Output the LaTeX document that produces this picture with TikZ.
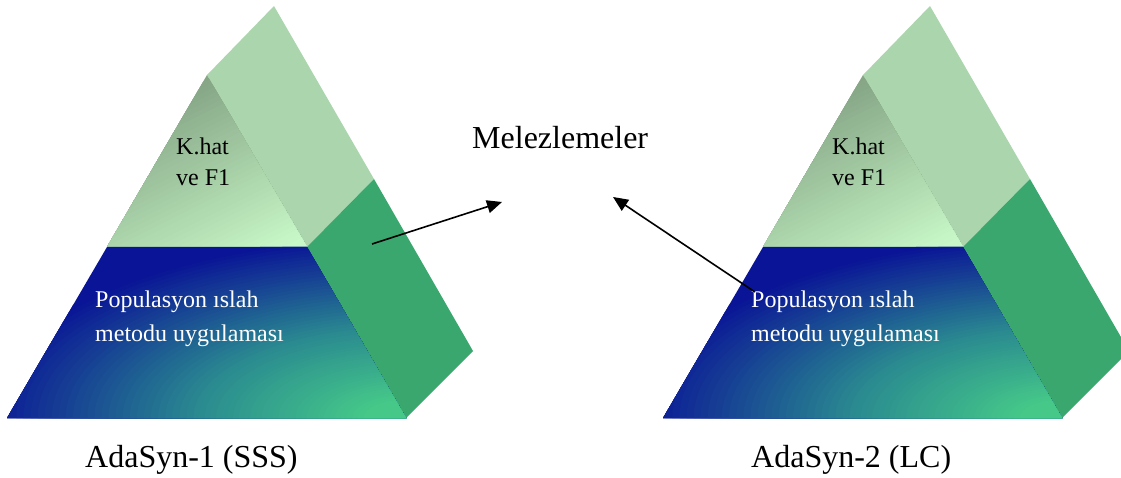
\documentclass[tikz,border=0pt]{standalone}
\usepackage{fontspec}
\setmainfont{Liberation Serif}
\usetikzlibrary{arrows.meta}

\definecolor{sidelight}{HTML}{ABD6AD}
\definecolor{sidedark}{HTML}{3AA86E}
\definecolor{capdark}{HTML}{85A585}
\definecolor{caplight}{HTML}{C8F8C8}
\definecolor{basblue}{HTML}{0A1496}
\definecolor{basteal}{HTML}{2A8A90}
\definecolor{basgreen}{HTML}{45C888}

% One three-sided pyramid: side faces, shaded cap and shaded base band.
\newcommand{\drawpyramid}[1]{%
  \begin{scope}[xshift=#1pt]
    \fill[sidelight] (207,75) -- (274,6) -- (374,179) -- (307,247) -- cycle;
    \fill[sidedark] (307,247) -- (374,179) -- (473,351) -- (406,418) -- cycle;
    % cap: linear gradient running down and to the right
    \begin{scope}
      \clip (207,75) -- (307,247) -- (107,247) -- cycle;
      \fill[capdark] (100,70) rectangle (310,250);
      \foreach \k in {1,...,40}{
        \pgfmathsetmacro{\cpos}{357+10.5*\k}
        \pgfmathsetmacro{\cpct}{2.5*\k}
        \fill[caplight!\cpct!capdark] (\cpos,0) -- (\cpos-1000,500)
          -- (\cpos+1000,500) -- (\cpos+2000,0) -- cycle;
      }
    \end{scope}
    % base band: gradient spreading from the lower right corner
    \begin{scope}
      \clip (107,247) -- (307,247) -- (406,418) -- (7,418) -- cycle;
      \fill[basblue] (0,240) rectangle (410,420);
      \foreach \k in {0,...,30}{
        \pgfmathsetmacro{\sval}{1-\k/60}
        \pgfmathsetmacro{\bpct}{100-10*\k/3}
        \fill[basblue!\bpct!basteal] (406,418)
          ellipse [x radius=425*\sval pt, y radius=182*\sval pt];
      }
      \foreach \k in {1,...,30}{
        \pgfmathsetmacro{\sval}{0.5-0.4*\k/30}
        \pgfmathsetmacro{\bpct}{100-10*\k/3}
        \fill[basteal!\bpct!basgreen] (406,418)
          ellipse [x radius=425*\sval pt, y radius=182*\sval pt];
      }
    \end{scope}
  \end{scope}}

\begin{document}
\begin{tikzpicture}[x=1pt,y=-1pt,
  captxt/.style={inner sep=0pt, anchor=base west, text=black,
    font=\fontsize{32}{38}\selectfont},
  captop/.style={inner sep=0pt, anchor=base west, align=left, text=black,
    font=\fontsize{24}{31}\selectfont},
  capband/.style={inner sep=0pt, anchor=base west, align=left, text=white,
    font=\fontsize{24}{34}\selectfont},
  conn/.style={line width=1.6pt, -{Triangle[length=15pt,width=13pt]}}]

  \useasboundingbox (0,0) rectangle (1121,478);
  \clip (0,0) rectangle (1121,478);

  \drawpyramid{0}
  \drawpyramid{656}

  % texts on the left pyramid (positions give the last line's baseline)
  \node[captop] (khA) at (176,186) {K.hat\\ve F1};
  \node[capband] (popA) at (95,341) {Populasyon ıslah\\metodu uygulaması};
  \node[captxt] (adaA) at (85,467) {AdaSyn-1 (SSS)};

  % texts on the right pyramid
  \node[captop] (khB) at (832,186) {K.hat\\ve F1};
  \node[capband] (popB) at (751,341) {Populasyon ıslah\\metodu uygulaması};
  \node[captxt] (adaB) at (751,467) {AdaSyn-2 (LC)};

  % centre label and the two arrows pointing at it
  \node[captxt] (mel) at (472,149) {Melezlemeler};
  \coordinate (srcA) at (372,244);
  \coordinate (dstA) at (502,202);
  \coordinate (srcB) at (755,292);
  \coordinate (dstB) at (613,197);
  \draw[conn] (srcA) -- (dstA);
  \draw[conn] (srcB) -- (dstB);
\end{tikzpicture}
\end{document}
